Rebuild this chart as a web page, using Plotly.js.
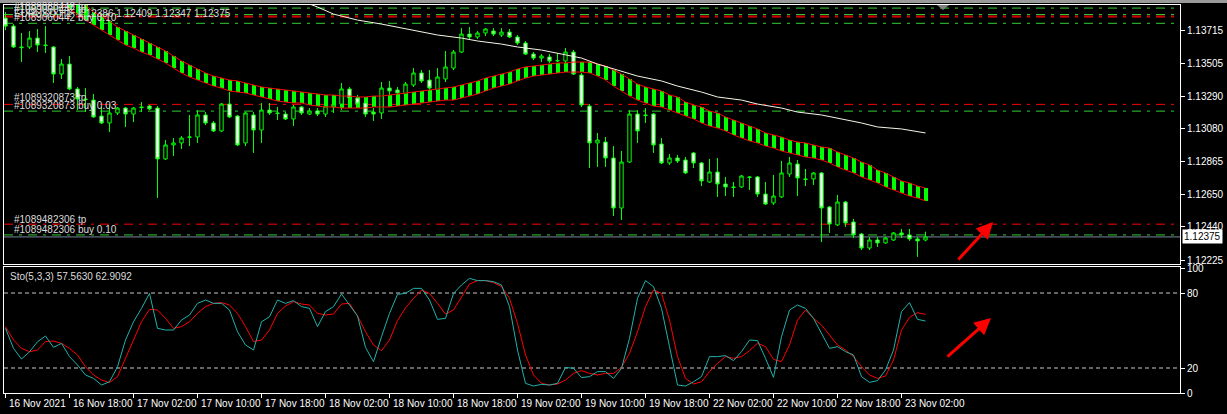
<!DOCTYPE html>
<html>
<head>
<meta charset="utf-8">
<script src="https://cdn.plot.ly/plotly-3.0.1.min.js"></script>
<style>
html,body{margin:0;padding:0;background:#000;}
#chart{width:1227px;height:414px;}
</style>
</head>
<body>
<div id="chart"></div>
<script>
// ---------- DATA (EURUSD H1) ----------
const openP = [1.13798,1.13746,1.13610,1.13610,1.13668,1.13623,1.13610,1.13434,1.13499,1.13337,
1.13272,1.13265,1.13161,1.13116,1.13181,1.13213,1.13174,1.13220,1.13226,1.13213,
1.12882,1.12973,1.12986,1.13022,1.13025,1.13168,1.13116,1.13064,1.13239,1.13161,
1.12986,1.13168,1.13070,1.13200,1.13181,1.13174,1.13142,1.13220,1.13174,1.13194,
1.13174,1.13220,1.13239,1.13337,1.13278,1.13246,1.13187,1.13181,1.13343,1.13330,
1.13304,1.13363,1.13441,1.13395,1.13330,1.13402,1.13473,1.13577,1.13694,1.13675,
1.13701,1.13714,1.13688,1.13707,1.13675,1.13636,1.13564,1.13538,1.13545,1.13519,
1.13519,1.13577,1.13428,1.13226,1.12986,1.12992,1.12888,1.12563,1.12862,1.13174,
1.13168,1.13174,1.12979,1.12856,1.12888,1.12875,1.12921,1.12856,1.12732,1.12797,
1.12719,1.12700,1.12700,1.12765,1.12765,1.12654,1.12596,1.12635,1.12784,1.12849,
1.12752,1.12752,1.12791,1.12570,1.12453,1.12602,1.12472,1.12394,1.12303,1.12355,
1.12336,1.12355,1.12401,1.12388,1.12362,1.12355];
const highP = [1.13837,1.13759,1.13701,1.13714,1.13727,1.13746,1.13616,1.13532,1.13551,1.13350,
1.13343,1.13304,1.13220,1.13239,1.13220,1.13220,1.13220,1.13252,1.13233,1.13226,
1.13005,1.13018,1.13031,1.13168,1.13200,1.13187,1.13129,1.13246,1.13317,1.13168,
1.13187,1.13187,1.13246,1.13246,1.13220,1.13187,1.13233,1.13226,1.13213,1.13213,
1.13239,1.13246,1.13376,1.13350,1.13298,1.13265,1.13213,1.13382,1.13389,1.13350,
1.13382,1.13473,1.13460,1.13460,1.13473,1.13584,1.13590,1.13733,1.13740,1.13714,
1.13733,1.13733,1.13733,1.13727,1.13688,1.13649,1.13577,1.13564,1.13564,1.13571,
1.13603,1.13590,1.13441,1.13239,1.13051,1.13025,1.12966,1.12934,1.13200,1.13200,
1.13213,1.13181,1.13018,1.12914,1.12908,1.12895,1.12927,1.12862,1.12882,1.12888,
1.12765,1.12732,1.12778,1.12771,1.12771,1.12732,1.12778,1.12869,1.12895,1.12875,
1.12817,1.12797,1.12797,1.12576,1.12648,1.12609,1.12492,1.12401,1.12375,1.12375,
1.12375,1.12407,1.12427,1.12427,1.12375,1.12409];
const lowP = [1.13720,1.13603,1.13512,1.13597,1.13577,1.13571,1.13376,1.13402,1.13330,1.13200,
1.13187,1.13150,1.13109,1.13057,1.13168,1.13090,1.13122,1.13187,1.13200,1.12628,
1.12875,1.12901,1.12947,1.12966,1.12986,1.13103,1.13057,1.13057,1.13148,1.12966,
1.12966,1.12921,1.12986,1.13168,1.13135,1.13135,1.13096,1.13168,1.13168,1.13161,
1.13155,1.13181,1.13200,1.13265,1.13220,1.13155,1.13129,1.13142,1.13285,1.13285,
1.13285,1.13350,1.13376,1.13285,1.13285,1.13382,1.13460,1.13571,1.13662,1.13662,
1.13681,1.13681,1.13675,1.13668,1.13623,1.13558,1.13525,1.13512,1.13506,1.13512,
1.13506,1.13428,1.13220,1.12823,1.12830,1.12830,1.12511,1.12485,1.12856,1.12986,
1.13116,1.12921,1.12849,1.12843,1.12856,1.12784,1.12823,1.12706,1.12726,1.12635,
1.12641,1.12635,1.12693,1.12680,1.12635,1.12583,1.12583,1.12628,1.12765,1.12641,
1.12706,1.12713,1.12342,1.12401,1.12446,1.12440,1.12368,1.12290,1.12290,1.12310,
1.12330,1.12349,1.12368,1.12349,1.12245,1.12347];
const closeP = [1.13746,1.13610,1.13606,1.13668,1.13623,1.13620,1.13434,1.13499,1.13337,1.13272,
1.13268,1.13155,1.13116,1.13181,1.13213,1.13174,1.13213,1.13216,1.13207,1.12882,
1.12973,1.12986,1.13018,1.13025,1.13168,1.13116,1.13064,1.13239,1.13155,1.12973,
1.13181,1.13070,1.13200,1.13181,1.13178,1.13142,1.13220,1.13181,1.13194,1.13174,
1.13226,1.13233,1.13337,1.13278,1.13239,1.13174,1.13174,1.13343,1.13324,1.13311,
1.13369,1.13441,1.13389,1.13343,1.13415,1.13480,1.13577,1.13694,1.13675,1.13701,
1.13727,1.13694,1.13707,1.13675,1.13636,1.13564,1.13538,1.13551,1.13519,1.13522,
1.13577,1.13434,1.13233,1.12986,1.13005,1.12888,1.12563,1.12862,1.13174,1.13064,
1.13165,1.12973,1.12856,1.12888,1.12869,1.12791,1.12856,1.12739,1.12797,1.12719,
1.12700,1.12697,1.12771,1.12762,1.12654,1.12589,1.12641,1.12791,1.12856,1.12758,
1.12749,1.12791,1.12563,1.12459,1.12602,1.12466,1.12388,1.12303,1.12355,1.12336,
1.12368,1.12401,1.12388,1.12362,1.12349,1.12375];

// Moving average (white line), read at these bars
const maBars = [37,38,39,41,44,47,51,54,57,59,62,64,67,69,72,74,77,79,82,84,87,89,92,94,97,99,102,104,107,109,112,115];
const maVals = [1.13909,1.13889,1.13870,1.13824,1.13785,1.13759,1.13720,1.13688,1.13668,1.13649,1.13629,1.13610,1.13590,1.13571,1.13538,1.13499,1.13454,1.13421,1.13389,1.13356,1.13317,1.13285,1.13265,1.13239,1.13213,1.13187,1.13168,1.13148,1.13116,1.13090,1.13077,1.13051];

// Ribbon (upper / lower buffers, bars 7..115)
const bandStart = 7;
const bandUpper = [1.14006,1.13967,1.13928,1.13883,1.13837,1.13811,1.13779,1.13740,1.13714,1.13688,
1.13662,1.13636,1.13610,1.13584,1.13551,1.13519,1.13493,1.13467,1.13441,1.13421,
1.13408,1.13395,1.13389,1.13376,1.13363,1.13350,1.13343,1.13337,1.13330,1.13324,
1.13317,1.13311,1.13304,1.13298,1.13298,1.13291,1.13291,1.13285,1.13285,1.13291,
1.13291,1.13298,1.13304,1.13311,1.13317,1.13324,1.13330,1.13337,1.13343,1.13350,
1.13363,1.13376,1.13389,1.13408,1.13421,1.13434,1.13447,1.13467,1.13480,1.13486,
1.13493,1.13499,1.13506,1.13506,1.13512,1.13512,1.13512,1.13499,1.13486,1.13460,
1.13434,1.13402,1.13369,1.13350,1.13337,1.13324,1.13298,1.13285,1.13252,1.13233,
1.13220,1.13194,1.13181,1.13155,1.13135,1.13116,1.13096,1.13077,1.13051,1.13038,
1.13025,1.13005,1.12992,1.12986,1.12973,1.12960,1.12953,1.12927,1.12908,1.12888,
1.12862,1.12843,1.12810,1.12791,1.12765,1.12739,1.12726,1.12706,1.12693];
const bandLower = [1.13889,1.13857,1.13824,1.13785,1.13753,1.13720,1.13688,1.13655,1.13623,1.13603,
1.13577,1.13558,1.13532,1.13506,1.13473,1.13441,1.13415,1.13395,1.13376,1.13356,
1.13343,1.13324,1.13317,1.13311,1.13298,1.13285,1.13272,1.13259,1.13252,1.13246,
1.13246,1.13233,1.13226,1.13220,1.13220,1.13213,1.13213,1.13213,1.13213,1.13220,
1.13220,1.13220,1.13226,1.13233,1.13239,1.13246,1.13252,1.13259,1.13265,1.13265,
1.13278,1.13291,1.13304,1.13324,1.13343,1.13356,1.13369,1.13389,1.13408,1.13421,
1.13428,1.13434,1.13441,1.13447,1.13447,1.13447,1.13441,1.13421,1.13395,1.13356,
1.13324,1.13291,1.13265,1.13246,1.13226,1.13220,1.13200,1.13181,1.13161,1.13142,
1.13116,1.13096,1.13083,1.13064,1.13038,1.13018,1.12999,1.12986,1.12966,1.12953,
1.12934,1.12921,1.12908,1.12895,1.12888,1.12875,1.12856,1.12830,1.12810,1.12791,
1.12765,1.12745,1.12726,1.12700,1.12680,1.12661,1.12641,1.12628,1.12609];

// Stochastic (5,3,3)
const stochMain = [51.7,35.7,27.2,33,41,45.6,36.5,39.7,29.1,22.4,
14.4,11.7,6.4,9,21,42.4,57,67.7,79.7,51.7,
50.4,50.4,58.4,62.4,71.7,74.4,71.7,71.7,66.4,49,
38.4,34.4,57,61,74.4,71.7,73.9,69.1,67.7,53.1,
65.1,69.1,79.2,70.4,61.6,36.5,25,45,63.7,78.9,
79.7,83.7,83.7,74.4,58.9,59.7,79.7,86.4,91.7,89.9,
89.9,89.1,86.4,69.1,34.4,7.7,5.6,6.9,6.4,7.7,
20.5,19.7,12.3,13.1,17.1,17.1,11.7,19.7,43.7,75.7,
89.9,85.1,67.7,37.1,6.4,5.6,9,13.1,29.1,29.1,
29.9,25.9,33.1,42.4,41.9,27.7,12.5,45,66.4,70.4,
67.7,59.7,47.7,35.7,37.1,33.1,30.4,13.1,8.5,9.9,
18.4,34.4,65.1,72.3,58.9,57.6];
const stochSignal = [53.1,42.4,35.7,33,34.4,41.1,41.6,39.7,35.7,30.4,
21,14.4,10.4,8.3,13.1,27.7,43.7,57,66.9,66.4,
59.7,51.7,53.1,57,63.7,69.1,71.7,72.3,70.4,63.7,
53.1,41.1,42.4,50.4,63.7,69.6,73.1,71.2,70.4,63.7,
62.4,63.2,71.2,71.7,61.6,49,38.4,33.9,42.4,58,
68,75.7,82.4,79.7,71.7,63.2,66.4,77.1,87.2,89.9,
89.9,88.3,85.1,75.7,55.7,30.4,14.4,7.7,6.4,7.2,
10.4,15.7,17.9,15.7,14.4,15.7,15.7,20.5,31.7,49,
69.1,82.4,79.7,58.4,29.1,11.7,7.2,9,17.1,23.7,
29.1,27.7,29.1,33.9,39.7,37.1,26.9,25.1,38.4,58.4,
66.4,59.7,54.4,46.4,38.4,34.4,29.1,21.1,14.4,11.7,
13.6,26.4,50.4,60.5,64.3,62.9];

// Order levels
const tpLevels  = [1.13811,1.13805,1.13237,1.12458];
const buyLevels = [1.13863,1.13821,1.13764,1.13193,1.12388];
const bidPrice = 1.12375;
const stochLevels = [20,80];

// Axis labels
const priceTicks = [1.13715,1.13505,1.13290,1.13080,1.12865,1.12650,1.12440,1.12225];
const priceTickText = ['1.13715','1.13505','1.13290','1.13080','1.12865','1.12650','1.12440','1.12225'];
const stochTicks = [0,20,80,100];
const timeTickBars = [0,8,16,24,32,40,48,56,64,72,80,88,96,104,112];
const timeTickText = ['16 Nov 2021','16 Nov 18:00','17 Nov 02:00','17 Nov 10:00','17 Nov 18:00','18 Nov 02:00','18 Nov 10:00','18 Nov 18:00','19 Nov 02:00','19 Nov 10:00','19 Nov 18:00','22 Nov 02:00','22 Nov 10:00','22 Nov 18:00','23 Nov 02:00'];

// Texts
const headerText = 'EURUSD,H1  1.12386 1.12409 1.12347 1.12375';
const stochTitle = 'Sto(5,3,3) 57.5630 62.9092';

// ---------- BUILD ----------
const FONT = 'Liberation Sans, Arial, sans-serif';
const bars = openP.map((_, i) => i);
const bandBars = bandUpper.map((_, i) => bandStart + i);
const bandHeight = bandUpper.map((u, i) => u - bandLower[i]);

// pixel helpers for page furniture (plot area: x 4..1180, y 5..393)
const PX = px => (px - 4) / 1176;
const PY = py => (393 - py) / 388;

const traces = [
  {type:'bar', x:bandBars, y:bandHeight, base:bandLower, width:0.5,
   marker:{color:'#00FF00', line:{width:0}}, xaxis:'x', yaxis:'y', hoverinfo:'skip'},
  {type:'scatter', mode:'lines', x:bandBars, y:bandUpper, line:{color:'#FF0000', width:1},
   xaxis:'x', yaxis:'y', hoverinfo:'skip'},
  {type:'scatter', mode:'lines', x:bandBars, y:bandLower, line:{color:'#FF0000', width:1},
   xaxis:'x', yaxis:'y', hoverinfo:'skip'},
  {type:'scatter', mode:'lines', x:maBars, y:maVals, line:{color:'#F5F5E6', width:1},
   xaxis:'x', yaxis:'y', hoverinfo:'skip'},
  {type:'candlestick', x:bars, open:openP, high:highP, low:lowP, close:closeP,
   xaxis:'x', yaxis:'y', whiskerwidth:0,
   increasing:{line:{color:'#00FF00', width:1}, fillcolor:'#000000'},
   decreasing:{line:{color:'#00FF00', width:1}, fillcolor:'#FFFFFF'},
   hoverinfo:'skip'},
  {type:'scatter', mode:'lines', x:bars, y:stochSignal, line:{color:'#FF0000', width:1},
   xaxis:'x2', yaxis:'y2', hoverinfo:'skip'},
  {type:'scatter', mode:'lines', x:bars, y:stochMain, line:{color:'#20B2AA', width:1},
   xaxis:'x2', yaxis:'y2', hoverinfo:'skip'}
];

const DASHDOT = '9px,6px,3px,6px';
const shapes = [];
tpLevels.forEach(v => shapes.push({type:'line', xref:'paper', x0:0, x1:1, yref:'y', y0:v, y1:v,
  line:{color:'#FF0000', width:1, dash:DASHDOT}, layer:'below'}));
buyLevels.forEach(v => shapes.push({type:'line', xref:'paper', x0:0, x1:1, yref:'y', y0:v, y1:v,
  line:{color:'#32CD32', width:1, dash:DASHDOT}, layer:'below'}));
shapes.push({type:'line', xref:'paper', x0:0, x1:1, yref:'y', y0:bidPrice, y1:bidPrice,
  line:{color:'#778899', width:1}, layer:'below'});
stochLevels.forEach(v => shapes.push({type:'line', xref:'paper', x0:0, x1:1, yref:'y2', y0:v, y1:v,
  line:{color:'#C8C8C8', width:1, dash:'4px,3px'}, layer:'below'}));
// window frame strip at top and chart-shift marker
shapes.push({type:'rect', xref:'paper', yref:'paper', x0:PX(0), x1:PX(1227), y0:PY(3), y1:PY(0),
  fillcolor:'#9A9A9A', line:{width:0}});
shapes.push({type:'path', xref:'paper', yref:'paper',
  path:`M ${PX(937)} ${PY(5)} L ${PX(949)} ${PY(5)} L ${PX(943)} ${PY(10)} Z`,
  fillcolor:'#808080', line:{width:0}});

const annotations = [];
timeTickBars.forEach((b, i) => annotations.push({xref:'x2', x:b, yref:'paper', y:PY(404),
  xanchor:'left', yanchor:'middle', xshift:1, showarrow:false, text:timeTickText[i],
  font:{family:FONT, size:10, color:'#FFFFFF'}}));
const lbl = (txt, px, py) => annotations.push({xref:'paper', x:PX(px), yref:'paper', y:PY(py),
  xanchor:'left', yanchor:'middle', showarrow:false, text:txt,
  font:{family:FONT, size:10, color:'#DCDCDC'}});
lbl('#1089060442 tp', 12, 7);
lbl('#1089060442 tp', 12, 10);
lbl(headerText, 12, 13);
lbl('#1089060442 buy 0.10', 12, 17.5);
lbl('#1089320873 tp', 12, 97.5);
lbl('#1089320873 buy 0.03', 12, 105.5);
lbl('#1089482306 tp', 12, 219);
lbl('#1089482306 buy 0.10', 12, 229.5);
lbl(stochTitle, 8, 276);
annotations.push({xref:'paper', x:PX(1182), yref:'y', y:bidPrice, xanchor:'left', yanchor:'middle',
  showarrow:false, text:'1.12375', bgcolor:'#FFFFFF', borderpad:1,
  font:{family:FONT, size:10, color:'#000000'}});
// red hand-drawn arrows
annotations.push({xref:'paper', x:PX(993), yref:'paper', y:PY(222), text:'', showarrow:true,
  ax:-36, ay:39, arrowcolor:'#FF0000', arrowwidth:3, arrowhead:2, arrowsize:1.1, standoff:0});
annotations.push({xref:'paper', x:PX(991), yref:'paper', y:PY(318), text:'', showarrow:true,
  ax:-45, ay:40, arrowcolor:'#FF0000', arrowwidth:3, arrowhead:2, arrowsize:1.1, standoff:0});

const xr = [-0.1875, 146.8125];
const layout = {
  width:1227, height:414,
  paper_bgcolor:'#000000', plot_bgcolor:'#000000',
  margin:{l:4, r:47, t:5, b:21, pad:0},
  showlegend:false, boxgap:0.4, bargap:0,
  font:{family:FONT, size:10, color:'#FFFFFF'},
  xaxis:{domain:[0,1], anchor:'y', range:xr, showticklabels:false, ticks:'', showgrid:false,
    zeroline:false, showline:true, mirror:true, linecolor:'#FFFFFF', linewidth:1,
    rangeslider:{visible:false}, fixedrange:true},
  yaxis:{domain:[0.33247,1], anchor:'x', range:[1.12199,1.13883], side:'right',
    tickvals:priceTicks, ticktext:priceTickText, ticks:'outside', ticklen:4, tickcolor:'#FFFFFF',
    tickfont:{family:FONT, size:10, color:'#FFFFFF'}, showgrid:false, zeroline:false,
    showline:true, mirror:true, linecolor:'#FFFFFF', linewidth:1, fixedrange:true},
  xaxis2:{domain:[0,1], anchor:'y2', range:xr, tickvals:timeTickBars, ticks:'outside', ticklen:4,
    tickcolor:'#FFFFFF', showticklabels:false, showgrid:false, zeroline:false, showline:true,
    mirror:true, linecolor:'#FFFFFF', linewidth:1, fixedrange:true},
  yaxis2:{domain:[0,0.32474], anchor:'x2', range:[0,100.8], side:'right', tickvals:stochTicks,
    ticks:'outside', ticklen:4, tickcolor:'#FFFFFF', tickfont:{family:FONT, size:10, color:'#FFFFFF'},
    showgrid:false, zeroline:false, showline:true, mirror:true, linecolor:'#FFFFFF', linewidth:1,
    fixedrange:true},
  shapes:shapes,
  annotations:annotations
};

Plotly.newPlot('chart', traces, layout, {staticPlot:true, displayModeBar:false});
</script>
</body>
</html>
